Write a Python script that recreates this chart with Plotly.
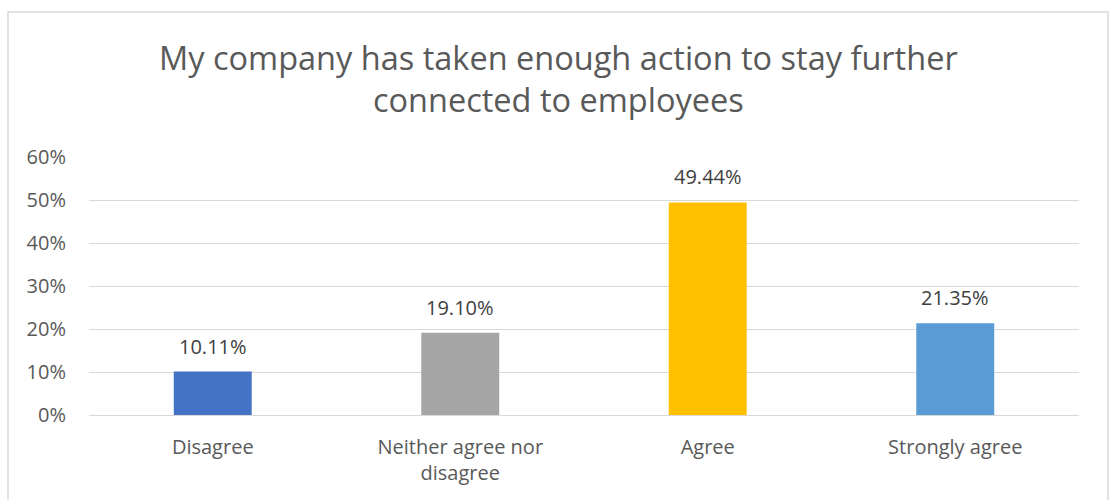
import plotly.graph_objects as go

categories = ["Disagree", "Neither agree nor disagree", "Agree", "Strongly agree"]
tick_labels = ["Disagree", "Neither agree nor<br>disagree", "Agree", "Strongly agree"]
shares = [0.1011, 0.1910, 0.4944, 0.2135]
bar_colors = ["#4472C4", "#A5A5A5", "#FFC000", "#5B9BD5"]
y_ticks = [0, 0.1, 0.2, 0.3, 0.4, 0.5, 0.6]

FONT = "'Open Sans', sans-serif"
TICK_SIZE = 20

fig = go.Figure(
    go.Bar(
        x=categories,
        y=shares,
        marker=dict(color=bar_colors, line=dict(width=0)),
        width=0.315,
        hoverinfo="skip",
    )
)

# value labels sitting a little above each bar
for cat, val in zip(categories, shares):
    fig.add_annotation(
        x=cat,
        y=val,
        xref="x",
        yref="y",
        text=f"{val:.2%}",
        showarrow=False,
        yanchor="bottom",
        yshift=10,
        font=dict(family=FONT, size=TICK_SIZE, color="#404040"),
    )

W, H = 1110, 500
L, R, T, B = 89, 31, 157, 85
pw, ph = W - L - R, H - T - B

fig.update_layout(
    width=W,
    height=H,
    margin=dict(l=L, r=R, t=T, b=B),
    paper_bgcolor="white",
    plot_bgcolor="white",
    showlegend=False,
    font=dict(family=FONT, color="#595959"),
    title=dict(
        text="My company has taken enough action to stay further<br>connected to employees",
        x=0.503,
        xanchor="center",
        yref="container",
        y=1 - 70 / H,
        yanchor="top",
        font=dict(family=FONT, size=32.5, color="#595959"),
    ),
    xaxis=dict(
        tickmode="array",
        tickvals=categories,
        ticktext=tick_labels,
        tickfont=dict(family=FONT, size=TICK_SIZE, color="#595959"),
        showgrid=False,
        showline=False,
        ticks="",
        ticklabelstandoff=18,
    ),
    yaxis=dict(
        range=[0, 0.6],
        tickvals=y_ticks,
        tickformat=".0%",
        tickfont=dict(family=FONT, size=TICK_SIZE, color="#595959"),
        showgrid=True,
        gridcolor="#D9D9D9",
        gridwidth=1,
        zeroline=True,
        zerolinecolor="#D9D9D9",
        zerolinewidth=1,
        showline=False,
        ticks="",
        ticklabelstandoff=22,
    ),
    shapes=[
        dict(
            type="rect",
            xref="paper",
            yref="paper",
            x0=(8 - L) / pw,
            x1=(1108 - L) / pw,
            y0=(H - 520 - B) / ph,
            y1=(H - 12 - B) / ph,
            line=dict(color="#D9D9D9", width=1.5),
            fillcolor="rgba(0,0,0,0)",
            layer="below",
        )
    ],
)

fig.write_html("out.html")
